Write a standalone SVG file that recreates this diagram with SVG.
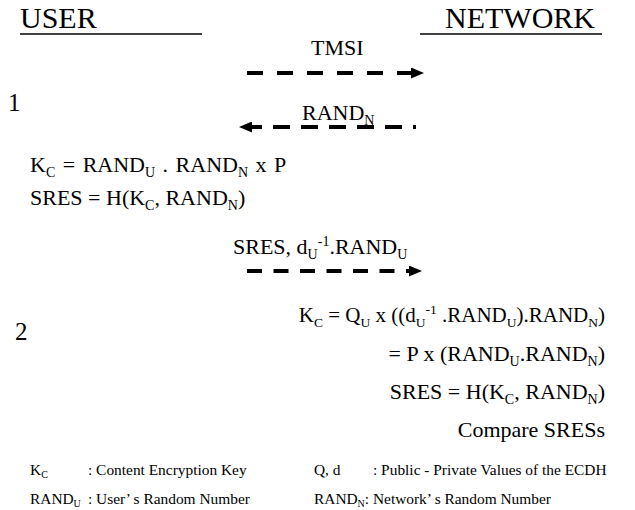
<svg xmlns="http://www.w3.org/2000/svg" width="635" height="510" viewBox="0 0 635 510">
<defs>
<style>
text{font-family:'Liberation Serif','Times New Roman',serif;fill:#000}
.h{font-size:30px}
.m{font-size:22px}
.n{font-size:25px}
.lg{font-size:15.4px}
.s{font-size:14px}
.ls{font-size:10px}
.r{text-anchor:end}
.ul{stroke:#000;stroke-width:1.5}
.ar{fill:none;stroke:#000;stroke-width:4}
</style>
<marker id="ah" markerUnits="userSpaceOnUse" markerWidth="13" markerHeight="11" refX="0" refY="5.5" orient="auto-start-reverse" viewBox="0 0 13 11">
<path d="M0,0 L13,5.5 L0,11 Z" fill="#000"/>
</marker>
</defs>
<rect width="635" height="510" fill="#fff"/>
<g id="user">
<text class="h" x="20" y="28">USER</text>
<line class="ul" x1="20" y1="34" x2="202" y2="34"/>
</g>
<g id="network">
<text class="h" x="445" y="28">NETWORK</text>
<line class="ul" x1="420" y1="34" x2="602" y2="34"/>
</g>
<g id="step1"><text class="n" x="8" y="111">1</text></g>
<g id="step2"><text class="n" x="15" y="340">2</text></g>
<g id="connectors">
<path class="ar" d="M247,73 H411" stroke-dasharray="16 14" marker-end="url(#ah)"/>
<text class="m" x="311" y="55">TMSI</text>
<path class="ar" d="M252,127 H416" stroke-dasharray="17 11" stroke-dashoffset="7" marker-start="url(#ah)"/>
<text class="m" x="302" y="120">RAND<tspan class="s" dy="5">N</tspan></text>
<path class="ar" d="M247,271 H409" stroke-dasharray="15 11.5" marker-end="url(#ah)"/>
<text class="m" x="233" y="254">SRES, d<tspan class="s" dy="5">U</tspan><tspan class="s" dy="-13">-1</tspan><tspan dy="8">.RAND</tspan><tspan class="s" dy="5">U</tspan></text>
</g>
<g id="user-calc">
<text class="m" x="30" y="172" word-spacing="2">K<tspan class="s" dy="5">C</tspan><tspan dy="-5"> = RAND</tspan><tspan class="s" dy="5">U</tspan><tspan dy="-5"> . RAND</tspan><tspan class="s" dy="5">N</tspan><tspan dy="-5"> x P</tspan></text>
<text class="m" x="30" y="205">SRES = H(K<tspan class="s" dy="5">C</tspan><tspan dy="-5">, RAND</tspan><tspan class="s" dy="5">N</tspan><tspan dy="-5">)</tspan></text>
</g>
<g id="network-calc">
<text class="r" x="605" y="322" font-size="21">K<tspan font-size="13.5" dy="5">C</tspan><tspan dy="-5"> = Q</tspan><tspan font-size="13.5" dy="5">U</tspan><tspan dy="-5"> x ((d</tspan><tspan font-size="13.5" dy="5">U</tspan><tspan font-size="13.5" dy="-13">-1</tspan><tspan dy="8"> .RAND</tspan><tspan font-size="13.5" dy="5">U</tspan><tspan dy="-5">).RAND</tspan><tspan font-size="13.5" dy="5">N</tspan><tspan dy="-5">)</tspan></text>
<text class="m r" x="605" y="361">= P x (RAND<tspan class="s" dy="5">U</tspan><tspan dy="-5">.RAND</tspan><tspan class="s" dy="5">N</tspan><tspan dy="-5">)</tspan></text>
<text class="m r" x="605" y="399">SRES = H(K<tspan class="s" dy="5">C</tspan><tspan dy="-5">, RAND</tspan><tspan class="s" dy="5">N</tspan><tspan dy="-5">)</tspan></text>
<text class="m r" x="605" y="437">Compare SRESs</text>
</g>
<g id="legend">
<text class="lg" x="30" y="475">K<tspan class="ls" dy="3">C</tspan></text>
<text class="lg" x="88" y="475">: Content Encryption Key</text>
<text class="lg" x="30" y="504">RAND<tspan class="ls" dy="3">U</tspan></text>
<text class="lg" x="88" y="504">: User’ s Random Number</text>
<text class="lg" x="314" y="475">Q, d</text>
<text class="lg" x="373" y="475">: Public - Private Values of the ECDH</text>
<text class="lg" x="314" y="504">RAND<tspan class="ls" dy="3">N</tspan><tspan dy="-3">: Network’ s Random Number</tspan></text>
</g>
</svg>
